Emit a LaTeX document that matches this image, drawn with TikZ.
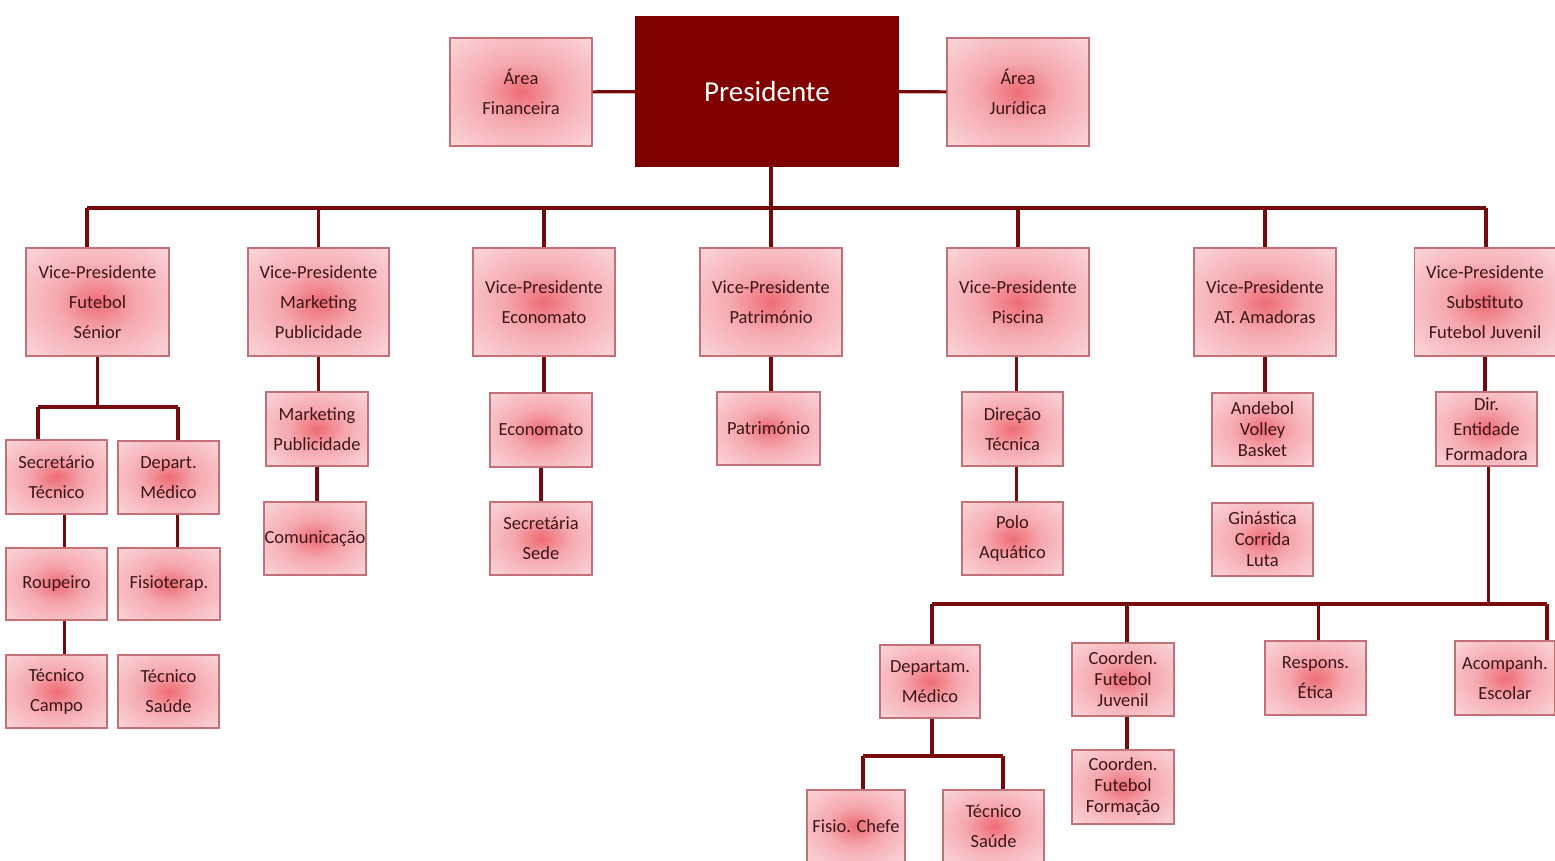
\documentclass[tikz,border=0pt]{standalone}
\usepackage{fontspec}
\setmainfont{Carlito}
\definecolor{linkred}{RGB}{118,10,12}
\definecolor{presred}{RGB}{128,0,0}
\definecolor{boxedge}{RGB}{196,112,120}
\definecolor{boxtext}{RGB}{62,22,24}
\definecolor{glowin}{RGB}{238,108,118}
\definecolor{glowmid}{RGB}{245,168,175}
\definecolor{glowout}{RGB}{250,220,223}
\pgfdeclareradialshading{boxglow}{\pgfpoint{0bp}{0bp}}{color(0bp)=(glowin); color(14bp)=(glowmid); color(38bp)=(glowout); color(50bp)=(glowout)}
\tikzset{
  basebox/.style={line width=1.2pt, inner sep=0pt, align=center,
    font=\fontsize{18.5}{30}\selectfont, minimum width=101, minimum height=73},
  orgbox/.style={basebox, draw=boxedge, shading=boxglow, text=boxtext},
  vpbox/.style={orgbox, minimum width=142, minimum height=108},
  tight/.style={font=\fontsize{18.5}{21}\selectfont},
  link/.style={draw=linkred, line width=3.2pt}
}
\begin{document}
\begin{tikzpicture}[x=1pt, y=-1pt]
      \useasboundingbox (0,0) rectangle (1555,860);
      \node [basebox, minimum width=262, minimum height=149, fill=presred, draw=presred, text=white, font=\fontsize{29}{34}\selectfont] (pres) at (767,91.5) {Presidente};
      \node [vpbox] (fin) at (521,92) {Área\\Financeira};
      \node [vpbox] (jur) at (1018,92) {Área\\Jurídica};
      \node [vpbox, minimum width=143] (vpfut) at (97.5,302) {Vice-Presidente\\Futebol\\Sénior};
      \node [vpbox, minimum width=141] (vpmkt) at (318.5,302) {Vice-Presidente\\Marketing\\Publicidade};
      \node [vpbox] (vpeco) at (544,302) {Vice-Presidente\\Economato};
      \node [vpbox] (vppat) at (771,302) {Vice-Presidente\\Património};
      \node [vpbox] (vppis) at (1018,302) {Vice-Presidente\\Piscina};
      \node [vpbox] (vpama) at (1265,302) {Vice-Presidente\\AT. Amadoras};
      \node [vpbox, minimum width=141] (vpjuv) at (1485,302) {Vice-Presidente\\Substituto\\Futebol Juvenil};
      \node [orgbox, minimum height=74] (sectec) at (56.5,477) {Secretário\\Técnico};
      \node [orgbox] (depmed) at (168.5,477.5) {Depart.\\Médico};
      \node [orgbox, minimum height=72] (roupeiro) at (56.5,584) {Roupeiro};
      \node [orgbox, minimum width=102, minimum height=72] (fisioterap) at (169,584) {Fisioterap.};
      \node [orgbox] (tcampo) at (56.5,691.5) {Técnico\\Campo};
      \node [orgbox] (tsaude) at (168.5,691.5) {Técnico\\Saúde};
      \node [orgbox, minimum width=102, minimum height=74] (mktpub) at (317,429) {Marketing\\Publicidade};
      \node [orgbox, minimum width=102] (comunic) at (315,538.5) {Comunicação};
      \node [orgbox, minimum width=102, minimum height=74] (econ) at (541,430) {Economato};
      \node [orgbox, minimum width=102] (secsede) at (541,538.5) {Secretária\\Sede};
      \node [orgbox, minimum width=103] (patrim) at (768.5,428.5) {Património};
      \node [orgbox, minimum height=74] (dirtec) at (1012.5,429) {Direção\\Técnica};
      \node [orgbox] (polo) at (1012.5,538.5) {Polo\\Aquático};
      \node [orgbox, tight] (andebol) at (1262.5,429.5) {Andebol\\Volley\\Basket};
      \node [orgbox, tight] (ginast) at (1262.5,539.5) {Ginástica\\Corrida\\Luta};
      \node [orgbox, minimum height=74, font=\fontsize{18.5}{25}\selectfont] (dirent) at (1486.5,429) {Dir.\\Entidade\\Formadora};
      \node [orgbox, minimum width=100] (dmed) at (930,681.5) {Departam.\\Médico};
      \node [orgbox, tight, minimum width=102] (cfjuv) at (1123,679.5) {Coorden.\\Futebol\\Juvenil};
      \node [orgbox, minimum height=74] (etica) at (1315.5,678) {Respons.\\Ética};
      \node [orgbox, minimum width=100, minimum height=74] (acomp) at (1505,678) {Acompanh.\\Escolar};
      \node [orgbox, tight, minimum width=102, minimum height=74] (cfform) at (1123,787) {Coorden.\\Futebol\\Formação};
      \node [orgbox, minimum width=98, minimum height=72] (fchefe) at (856,826) {Fisio. Chefe};
      \node [orgbox, minimum height=72] (tsaude2) at (993.5,826) {Técnico\\Saúde};
      \coordinate (busL) at (87,208);
      \coordinate (busR) at (1486,208);
      \coordinate (subL) at (38,407);
      \coordinate (subR) at (178,407);
      \coordinate (bustwoL) at (932,604);
      \coordinate (bustwoR) at (1547,604);
      \coordinate (busthreeL) at (863,756);
      \coordinate (busthreeR) at (1003,756);
      \draw [link] (fin) -- (pres);
      \draw [link] (pres) -- (jur);
      \draw [link] ([xshift=4]pres.south) -- ([xshift=4]pres.south |- busL);
      \draw [link] (busL) -- (busR);
      \draw [link] (busL) -- (busL |- vpfut.north);
      \draw [link] (busR) -- (busR |- vpjuv.north);
      \foreach \vp in {vpmkt,vpeco,vppat,vppis,vpama}
        \draw [link] (\vp.north) -- (\vp.north |- busL);
      \draw [link] (vpfut.south) -- (vpfut.south |- subL);
      \draw [link] (subL) -- (subR);
      \draw [link] (subL) -- (subL |- sectec.north);
      \draw [link] (subR) -- (subR |- depmed.north);
      \draw [link] ([xshift=8]sectec.south) -- ([xshift=8]roupeiro.north);
      \draw [link] ([xshift=8]roupeiro.south) -- ([xshift=8]tcampo.north);
      \draw [link] ([xshift=9]depmed.south) -- ([xshift=9]depmed.south |- fisioterap.north);
      \draw [link] (vpmkt.south) -- (vpmkt.south |- mktpub.north);
      \draw [link] (mktpub.south) -- (mktpub.south |- comunic.north);
      \draw [link] (vpeco.south) -- (vpeco.south |- econ.north);
      \draw [link] (econ.south) -- (secsede.north);
      \draw [link] (vppat.south) -- (vppat.south |- patrim.north);
      \draw [link] ([xshift=4]dirtec.south) -- ([xshift=4]polo.north);
      \draw [link] ([xshift=4]dirtec.north) -- ([xshift=4]dirtec.north |- vppis.south);
      \draw [link] (vpama.south) -- (vpama.south |- andebol.north);
      \draw [link] (vpjuv.south) -- (vpjuv.south |- dirent.north);
      \draw [link] ([xshift=2]dirent.south) -- ([xshift=2]dirent.south |- bustwoL);
      \draw [link] (bustwoL) -- (bustwoR);
      \draw [link] (bustwoL) -- (bustwoL |- dmed.north);
      \draw [link] ([xshift=4]cfjuv.north) -- ([xshift=4]cfjuv.north |- bustwoL);
      \draw [link] ([xshift=3]etica.north) -- ([xshift=3]etica.north |- bustwoL);
      \draw [link] (bustwoR) -- (bustwoR |- acomp.north);
      \draw [link] ([xshift=4]cfjuv.south) -- ([xshift=4]cfform.north);
      \draw [link] ([xshift=2]dmed.south) -- ([xshift=2]dmed.south |- busthreeL);
      \draw [link] (busthreeL) -- (busthreeR);
      \draw [link] (busthreeL) -- (busthreeL |- fchefe.north);
      \draw [link] (busthreeR) -- (busthreeR |- tsaude2.north);
    \end{tikzpicture}
\end{document}
